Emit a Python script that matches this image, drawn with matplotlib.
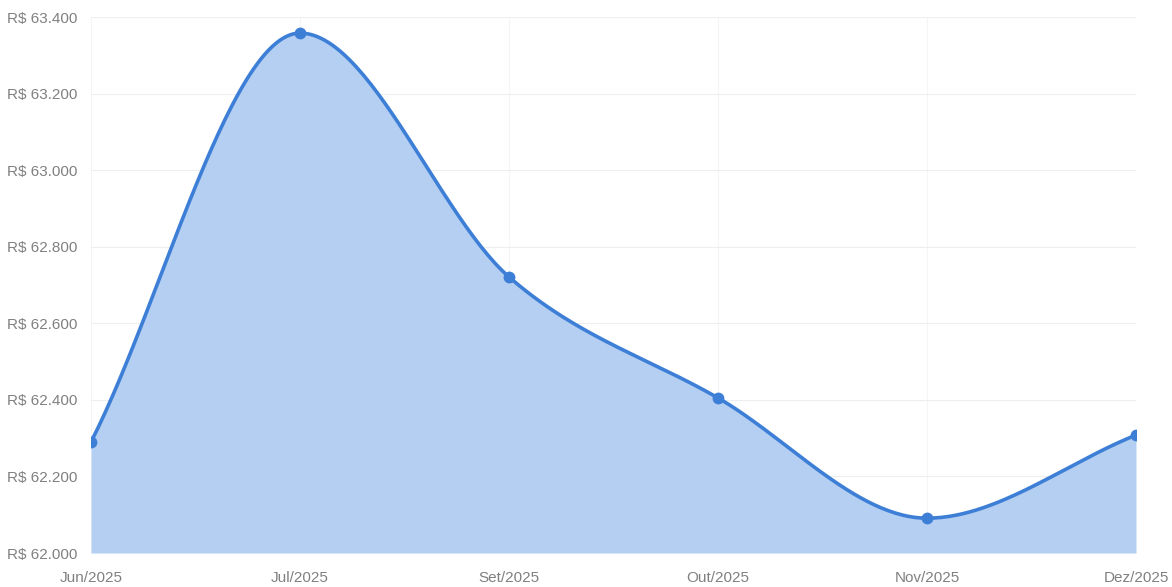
import numpy as np
import matplotlib.pyplot as plt

meses = ["Jun/2025", "Jul/2025", "Set/2025", "Out/2025", "Nov/2025", "Dez/2025"]
valores = [62290, 63358, 62721, 62405, 62091, 62308]
y_ticks = [62000, 62200, 62400, 62600, 62800, 63000, 63200, 63400]


def monotone_curve(x, y, n=60):
    # monotone cubic (Fritsch-Carlson), como o grafico original
    x = np.asarray(x, float)
    y = np.asarray(y, float)
    d = np.diff(y) / np.diff(x)
    m = np.zeros_like(y)
    m[0] = d[0]
    m[-1] = d[-1]
    for i in range(1, len(y) - 1):
        if d[i - 1] * d[i] <= 0:
            m[i] = 0
        else:
            m[i] = (d[i - 1] + d[i]) / 2
    for i in range(len(d)):
        if d[i] == 0:
            m[i] = m[i + 1] = 0
            continue
        a = m[i] / d[i]
        b = m[i + 1] / d[i]
        s = a * a + b * b
        if s > 9:
            t = 3 / np.sqrt(s)
            m[i] = t * a * d[i]
            m[i + 1] = t * b * d[i]
    xs, ys = [], []
    for i in range(len(d)):
        h = x[i + 1] - x[i]
        t = np.linspace(0, 1, n)
        h00 = 2 * t**3 - 3 * t**2 + 1
        h10 = t**3 - 2 * t**2 + t
        h01 = -2 * t**3 + 3 * t**2
        h11 = t**3 - t**2
        xs.append(x[i] + t * h)
        ys.append(h00 * y[i] + h10 * h * m[i] + h01 * y[i + 1] + h11 * h * m[i + 1])
    return np.concatenate(xs), np.concatenate(ys)


plt.rcParams['font.family'] = ['Liberation Sans', 'DejaVu Sans']

fig = plt.figure(figsize=(11.72, 5.87), dpi=100)
ax = fig.add_axes([91 / 1172, 34 / 587, (1136 - 91) / 1172, (553 - 17) / 587])

x = np.arange(len(meses))
cx, cy = monotone_curve(x, valores)

ax.fill_between(cx, cy, 62000, color="#b5cff2", linewidth=0)
ax.plot(cx, cy, color="#3d7fd6", linewidth=2.6, solid_capstyle="round")
ax.plot(x, valores, "o", color="#3d7fd6", markersize=7.5)

ax.set_xlim(0, len(meses) - 1)
ax.set_ylim(62000, 63400)
ax.set_xticks(x)
ax.set_xticklabels(meses)
ax.set_yticks(y_ticks)
ax.set_yticklabels(["R$ " + f"{v:,}".replace(",", ".") for v in y_ticks])

ax.grid(True, axis="y", color="#eeeeee", linewidth=0.8)
ax.grid(True, axis="x", color="#f5f5f5", linewidth=0.8)
ax.set_axisbelow(True)
for s in ax.spines.values():
    s.set_visible(False)
ax.tick_params(length=0, labelsize=11, colors="#808080")
ax.tick_params(axis="y", pad=10)
ax.tick_params(axis="x", pad=13)

fig.savefig("out.png", dpi=100, facecolor="white")
